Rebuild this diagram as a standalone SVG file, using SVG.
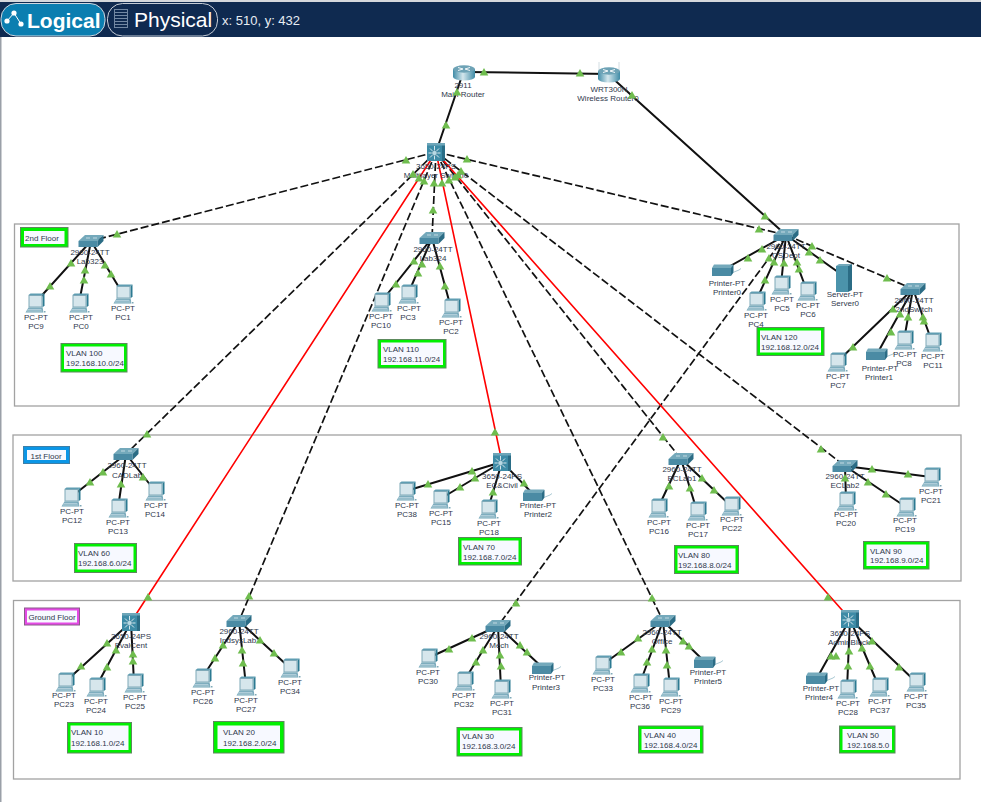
<svg xmlns="http://www.w3.org/2000/svg" width="981" height="802" viewBox="0 0 981 802">
<style>
text{font-family:"Liberation Sans",Arial,sans-serif}
.l{font-size:8px;fill:#2f384c;text-anchor:middle}
.v{font-size:8px;fill:#2f384c}
.f{font-size:8px;fill:#2f384c;text-anchor:middle}
.zone{fill:#fff;stroke:#a2a2a2;stroke-width:1.3}
.vo{fill:#00f000;stroke:#5d8a5d;stroke-width:1}
.vi{fill:#f7f9ff}
.s{stroke:#111;stroke-width:2;fill:none}
.d{stroke:#111;stroke-width:1.7;fill:none;stroke-dasharray:8 3}
.r{stroke:#f00;stroke-width:1.6;fill:none}
</style>
<defs>
<linearGradient id="cyl" x1="0" x2="1" y1="0" y2="0"><stop offset="0" stop-color="#3f8ba6"/><stop offset=".45" stop-color="#d4e7ed"/><stop offset="1" stop-color="#3f8ba6"/></linearGradient>
<polygon id="t" points="0,-4 4.3,3.4 -4.3,3.4" fill="#6fbd4e"/>
<g id="pc">
<polygon points="7.500,-8 9.500,-9.500 9.500,2.500 7.500,4.500" fill="#2c7a92"/>
<polygon points="-6.500,-8 -4.500,-9.500 9.500,-9.500 7.500,-8" fill="#5f9db2"/>
<rect x="-6.500" y="-8" width="14" height="12.500" fill="#7fa9b8"/>
<rect x="-5.500" y="-7" width="12" height="10.500" fill="#d6e6ec"/>
<polygon points="-9.500,9.500 -6.500,4.500 7.500,4.500 8.500,9.500" fill="#6ea3b6"/>
<path d="M-7.500 6.300H6.500M-8.500 8H7.500" stroke="#e4eff3" stroke-width=".7" fill="none"/>
<rect x="9" y="8" width="1.500" height="1.500" fill="#7fa9b8"/>
</g>
<g id="sw">
<polygon points="-12.500,0 -6,-6 12.500,-6 6.500,0" fill="#74a9bb"/>
<polygon points="-12.500,0 6.500,0 6.500,6 -12.500,6" fill="#4b8ba4"/>
<polygon points="6.500,0 12.500,-6 12.500,0 6.500,6" fill="#2b6c85"/>
<path d="M-5 -3H-1M2 -3H6" stroke="#d6e6ec" stroke-width=".8" fill="none"/>
</g>
<g id="ml">
<rect x="-9" y="-9" width="18" height="18" fill="#3d8ba6"/>
<rect x="6" y="-9" width="3" height="18" fill="#2a6d86"/>
<rect x="-9" y="-9" width="18" height="2.500" fill="#6ea6b9"/>
<path d="M-1.500 1L-1.500 -6M-1.500 1L-1.500 7.500M-1.500 1H-7.500M-1.500 1H4.500M-1.500 1L-6 -3.500M-1.500 1L3 -3.500M-1.500 1L-6 5.500M-1.500 1L3 5.500" stroke="#e8f2f5" stroke-width=".9" fill="none"/>
<circle cx="-1.500" cy="1" r="2.600" fill="#b7d9e4" stroke="#2a6d86" stroke-width=".5"/>
</g>
<g id="rt">
<rect x="-11" y="-4" width="22" height="8" fill="url(#cyl)"/>
<ellipse cx="0" cy="4" rx="11" ry="3.500" fill="url(#cyl)"/>
<ellipse cx="0" cy="-4" rx="11" ry="3.700" fill="#6ea3b6"/>
<path d="M-6 -5.500L-1 -4M6 -2.500L1 -4M6 -5.500L1 -4M-6 -2.500L-1 -4" stroke="#f2f7f9" stroke-width="1" fill="none"/>
</g>
<g id="pr">
<polygon points="-11,-2 -9,-5.500 10,-5.500 10,-2" fill="#74a9bb"/>
<rect x="-11" y="-2" width="19" height="8" fill="#4b8ba4"/>
<polygon points="8,-2 10.500,-5.500 10.500,2.500 8,6" fill="#2b6c85"/>
<path d="M11 2L16 0L18 -1.500" stroke="#9fc2ce" stroke-width=".9" fill="none"/>
</g>
<g id="sv">
<rect x="-8" y="-11" width="12" height="26" fill="#4b93ab"/>
<polygon points="-8,-11 -5,-13 8,-13 4,-11" fill="#74a9bb"/>
<polygon points="4,-11 8,-13 8,13 4,15" fill="#2b6c85"/>
</g>
</defs>
<rect width="981" height="802" fill="#fff"/>
<g id="toolbar">
<rect x="0" y="2" width="981" height="35" fill="#0f2a50"/>
<rect x="0" y="0" width="981" height="2" fill="#d5d8dc"/>
<rect x="1" y="3.500" width="104" height="32.500" rx="15" fill="#0b7eb0" stroke="#cfd8e0"/>
<rect x="107.500" y="3.500" width="110" height="32.500" rx="15" fill="#0f2a50" stroke="#c5ccd6"/>
<path d="M7 21L14 13L21 24" stroke="#fff" stroke-width="1" fill="none"/>
<circle cx="7" cy="21" r="2.600" fill="#fff"/><circle cx="14" cy="13" r="2.600" fill="#fff"/><circle cx="21" cy="24" r="2.600" fill="#fff"/>
<rect x="114.500" y="9.500" width="13" height="18" fill="none" stroke="#7288a3"/>
<path d="M115 12.500H127M115 15.500H127M115 18.500H127M115 21.500H127M115 24.500H127" stroke="#7288a3" fill="none"/>
<text x="27" y="28" font-size="21" font-weight="bold" fill="#fff">Logical</text>
<text x="134" y="27" font-size="21" fill="#fff">Physical</text>
<text x="222" y="25" font-size="13" fill="#e8edf3">x: 510, y: 432</text>
</g>
<rect x="0" y="37" width="1.500" height="765" fill="#9aa0a8"/>
<g id="zones">
<rect class="zone" x="14.500" y="224" width="944.500" height="182"/>
<rect class="zone" x="13" y="435" width="948" height="146"/>
<rect class="zone" x="13.500" y="600.500" width="946.500" height="178.500"/>
</g>
<g id="connectors">
<path class="s" d="M467 72L609 74M463 73L436 152M609 75L786 235"/>
<path class="d" d="M436 152L91 241M436 152L126 454M436 152L239 621M436 152L432 238M436 152L681 459M436 152L663 621M436 152L845 466M436 152L786 235M786 235L498 626M786 235L913 289"/>
<path class="r" d="M436 152L131 622M436 152L502 462M436 152L850 619"/>
<path class="s" d="M91 241L35 303M91 241L79 303M91 241L123 294M432 238L381 302M432 238L408 294M432 238L451 308M786 235L723 270M786 235L756 301M786 235L781 285M786 235L807 291M786 235L845 277M913 289L837 362M913 289L877 354M913 289L904 340M913 289L932 342"/>
<path class="s" d="M126 454L71 497M126 454L118 508M126 454L155 491M502 462L406 491M502 462L440 499M502 462L488 509M502 462L534 495M681 459L658 508M681 459L697 511M681 459L731 506M845 466L846 501M845 466L906 507M845 466L931 477"/>
<path class="s" d="M131 622L65 682M131 622L96 687M131 622L134 683M239 621L202 678M239 621L246 686M239 621L290 668M498 626L428 658M498 626L464 681M498 626L501 689M498 626L543 668M663 621L602 665M663 621L640 683M663 621L670 687M663 621L705 662M850 619L817 678M850 619L847 689M850 619L879 687M850 619L916 682"/>
</g>
<g id="n-router"><use href="#rt" x="464" y="73"/><text class="l" x="463" y="88">2911</text><text class="l" x="463" y="97">Main Router</text></g>
<g id="n-wrt"><path d="M599 62V70M619 62V70" stroke="#c6d4da" stroke-width=".8"/><use href="#rt" x="609" y="75"/><text class="l" x="609" y="92">WRT300N</text><text class="l" x="608" y="101">Wireless Router0</text></g>
<g id="n-ml0"><use href="#ml" x="436" y="152"/><text class="l" x="436" y="169">3650-24PS</text><text class="l" x="436" y="178">Multilayer Switch0</text></g>
<g id="f2"><rect class="vo" x="20.500" y="227.500" width="47.500" height="19.500"/><rect class="vi" x="24" y="231" width="40.500" height="13"/><text class="f" x="42" y="241">2nd Floor</text></g>
<g id="f1"><rect x="23.500" y="446.500" width="46" height="17" fill="#0b96e6" stroke="#3c7fa8"/><rect class="vi" x="27" y="450" width="39" height="10"/><text class="f" x="46" y="459">1st Floor</text></g>
<g id="f0"><rect x="24.500" y="608" width="55" height="17" fill="#e44be4" stroke="#8a5a8a"/><rect class="vi" x="27" y="610.500" width="50" height="12"/><text class="f" x="52" y="620">Ground Floor</text></g>
<g id="v100"><rect class="vo" x="61" y="343.500" width="66" height="28.500"/><rect class="vi" x="64" y="346.500" width="60" height="22.500"/><text class="v" x="66" y="356">VLAN 100</text><text class="v" x="66" y="365.500">192.168.10.0/24</text></g>
<g id="v110"><rect class="vo" x="378" y="339.500" width="68" height="28.500"/><rect class="vi" x="381" y="342.500" width="62" height="22.500"/><text class="v" x="383" y="352">VLAN 110</text><text class="v" x="383" y="361.500">192.168.11.0/24</text></g>
<g id="v120"><rect class="vo" x="757" y="327.500" width="67" height="28"/><rect class="vi" x="760" y="330.500" width="61" height="22"/><text class="v" x="761" y="340">VLAN 120</text><text class="v" x="761" y="349.500">192.168.12.0/24</text></g>
<g id="v60"><rect class="vo" x="74.500" y="543.500" width="62" height="29"/><rect class="vi" x="77.500" y="546.500" width="56" height="23"/><text class="v" x="78" y="556">VLAN 60</text><text class="v" x="78" y="565.500">192.168.6.0/24</text></g>
<g id="v70"><rect class="vo" x="458.500" y="537.500" width="63" height="27.500"/><rect class="vi" x="461.500" y="540.500" width="57" height="21.500"/><text class="v" x="463" y="549.500">VLAN 70</text><text class="v" x="463" y="559.500">192.168.7.0/24</text></g>
<g id="v80"><rect class="vo" x="674.500" y="545.500" width="64" height="28"/><rect class="vi" x="677.500" y="548.500" width="58" height="22"/><text class="v" x="678" y="557.500">VLAN 80</text><text class="v" x="678" y="567.500">192.168.8.0/24</text></g>
<g id="v90"><rect class="vo" x="863.500" y="541.500" width="65.500" height="27.500"/><rect class="vi" x="866.500" y="544.500" width="59.500" height="21.500"/><text class="v" x="870" y="553.500">VLAN 90</text><text class="v" x="870" y="563">192.168.9.0/24</text></g>
<g id="v10"><rect class="vo" x="67.500" y="722.500" width="64" height="30.500"/><rect class="vi" x="70.500" y="725.500" width="58" height="24.500"/><text class="v" x="71" y="735">VLAN 10</text><text class="v" x="71" y="746">192.168.1.0/24</text></g>
<g id="v20"><rect class="vo" x="213.500" y="721.500" width="70.500" height="31.500"/><rect class="vi" x="217.500" y="725.500" width="62.500" height="23.500"/><text class="v" x="223" y="735">VLAN 20</text><text class="v" x="223" y="746">192.168.2.0/24</text></g>
<g id="v30"><rect class="vo" x="457" y="727.500" width="65" height="28.500"/><rect class="vi" x="460" y="730.500" width="59" height="22.500"/><text class="v" x="462" y="739">VLAN 30</text><text class="v" x="462" y="749">192.168.3.0/24</text></g>
<g id="v40"><rect class="vo" x="638.500" y="726" width="64.500" height="27"/><rect class="vi" x="641.500" y="729" width="58.500" height="21"/><text class="v" x="644" y="738">VLAN 40</text><text class="v" x="644" y="747.500">192.168.4.0/24</text></g>
<g id="v50"><rect class="vo" x="839.500" y="726" width="55.500" height="27"/><rect class="vi" x="842.500" y="729" width="49.500" height="21"/><text class="v" x="847" y="738">VLAN 50</text><text class="v" x="847" y="747.500">192.168.5.0</text></g>
<g id="Lab323"><use href="#sw" x="91" y="241"/><text class="l" x="90" y="255">2960-24TT</text><text class="l" x="90" y="264">Lab323</text></g>
<g id="Lab324"><use href="#sw" x="432" y="238"/><text class="l" x="433" y="252">2960-24TT</text><text class="l" x="433" y="261">Lab324</text></g>
<g id="CSDept"><use href="#sw" x="786" y="235"/><text class="l" x="786" y="249">2960-24TT</text><text class="l" x="786" y="258">CSDept</text></g>
<g id="SndSwitch"><use href="#sw" x="913" y="289"/><text class="l" x="914" y="303">2960-24TT</text><text class="l" x="914" y="312">2ndSwitch</text></g>
<g id="CADLab"><use href="#sw" x="126" y="454"/><text class="l" x="127" y="468">2960-24TT</text><text class="l" x="127" y="478">CADLab</text></g>
<g id="ECCivil"><use href="#ml" x="502" y="462"/><text class="l" x="502" y="479">3650-24PS</text><text class="l" x="502" y="488">EC&amp;Civil</text></g>
<g id="ECLab1"><use href="#sw" x="681" y="459"/><text class="l" x="682" y="472">2960-24TT</text><text class="l" x="682" y="481">ECLab1</text></g>
<g id="ECLab2"><use href="#sw" x="845" y="466"/><text class="l" x="845" y="479">2960-24TT</text><text class="l" x="845" y="488">ECLab2</text></g>
<g id="EvalCent"><use href="#ml" x="131" y="622"/><text class="l" x="131" y="639">3650-24PS</text><text class="l" x="131" y="648">EvalCent</text></g>
<g id="IndsysLab"><use href="#sw" x="239" y="621"/><text class="l" x="239" y="634">2960-24TT</text><text class="l" x="238" y="643">IndsysLab</text></g>
<g id="Mech"><use href="#sw" x="498" y="626"/><text class="l" x="499" y="639">2960-24TT</text><text class="l" x="499" y="648">Mech</text></g>
<g id="Office"><use href="#sw" x="663" y="621"/><text class="l" x="662" y="635">2960-24TT</text><text class="l" x="662" y="644">Office</text></g>
<g id="AdminBlock"><use href="#ml" x="850" y="619"/><text class="l" x="850" y="636">3650-24PS</text><text class="l" x="849" y="645">AdminBlock</text></g>
<g id="Printer0"><use href="#pr" x="723" y="270"/><text class="l" x="727" y="286">Printer-PT</text><text class="l" x="727" y="295">Printer0</text></g>
<g id="Printer1"><use href="#pr" x="877" y="354"/><text class="l" x="880" y="371">Printer-PT</text><text class="l" x="879" y="380">Printer1</text></g>
<g id="Printer2"><use href="#pr" x="534" y="495"/><text class="l" x="538" y="508">Printer-PT</text><text class="l" x="538" y="517">Printer2</text></g>
<g id="Printer3"><use href="#pr" x="543" y="668"/><text class="l" x="547" y="680">Printer-PT</text><text class="l" x="546" y="690">Printer3</text></g>
<g id="Printer5"><use href="#pr" x="705" y="662"/><text class="l" x="708" y="675">Printer-PT</text><text class="l" x="708" y="684">Printer5</text></g>
<g id="Printer4"><use href="#pr" x="817" y="678"/><text class="l" x="821" y="691">Printer-PT</text><text class="l" x="819" y="700">Printer4</text></g>
<g id="Server0"><use href="#sv" x="844" y="277"/><text class="l" x="845" y="297">Server-PT</text><text class="l" x="845" y="306">Server0</text></g>
<g id="PC9"><use href="#pc" x="35" y="303"/><text class="l" x="36" y="320">PC-PT</text><text class="l" x="36" y="329">PC9</text></g>
<g id="PC0"><use href="#pc" x="79" y="303"/><text class="l" x="81" y="320">PC-PT</text><text class="l" x="81" y="329">PC0</text></g>
<g id="PC1"><use href="#pc" x="123" y="294"/><text class="l" x="123" y="311">PC-PT</text><text class="l" x="123" y="320">PC1</text></g>
<g id="PC10"><use href="#pc" x="381" y="302"/><text class="l" x="381" y="319">PC-PT</text><text class="l" x="381" y="328">PC10</text></g>
<g id="PC3"><use href="#pc" x="408" y="294"/><text class="l" x="409" y="311">PC-PT</text><text class="l" x="408" y="320">PC3</text></g>
<g id="PC2"><use href="#pc" x="451" y="308"/><text class="l" x="451" y="325">PC-PT</text><text class="l" x="451" y="334">PC2</text></g>
<g id="PC4"><use href="#pc" x="756" y="301"/><text class="l" x="756" y="318">PC-PT</text><text class="l" x="756" y="327">PC4</text></g>
<g id="PC5"><use href="#pc" x="781" y="285"/><text class="l" x="782" y="302">PC-PT</text><text class="l" x="782" y="311">PC5</text></g>
<g id="PC6"><use href="#pc" x="807" y="291"/><text class="l" x="808" y="308">PC-PT</text><text class="l" x="808" y="317">PC6</text></g>
<g id="PC7"><use href="#pc" x="837" y="362"/><text class="l" x="838" y="379">PC-PT</text><text class="l" x="838" y="388">PC7</text></g>
<g id="PC8"><use href="#pc" x="904" y="340"/><text class="l" x="905" y="357">PC-PT</text><text class="l" x="904" y="366">PC8</text></g>
<g id="PC11"><use href="#pc" x="932" y="342"/><text class="l" x="933" y="359">PC-PT</text><text class="l" x="933" y="368">PC11</text></g>
<g id="PC12"><use href="#pc" x="71" y="497"/><text class="l" x="72" y="514">PC-PT</text><text class="l" x="72" y="523">PC12</text></g>
<g id="PC13"><use href="#pc" x="118" y="508"/><text class="l" x="118" y="525">PC-PT</text><text class="l" x="118" y="534">PC13</text></g>
<g id="PC14"><use href="#pc" x="155" y="491"/><text class="l" x="156" y="508">PC-PT</text><text class="l" x="155" y="517">PC14</text></g>
<g id="PC38"><use href="#pc" x="406" y="491"/><text class="l" x="407" y="508">PC-PT</text><text class="l" x="407" y="517">PC38</text></g>
<g id="PC15"><use href="#pc" x="440" y="499"/><text class="l" x="441" y="516">PC-PT</text><text class="l" x="441" y="525">PC15</text></g>
<g id="PC18"><use href="#pc" x="488" y="509"/><text class="l" x="489" y="526">PC-PT</text><text class="l" x="489" y="535">PC18</text></g>
<g id="PC16"><use href="#pc" x="658" y="508"/><text class="l" x="659" y="525">PC-PT</text><text class="l" x="659" y="534">PC16</text></g>
<g id="PC17"><use href="#pc" x="697" y="511"/><text class="l" x="698" y="528">PC-PT</text><text class="l" x="698" y="537">PC17</text></g>
<g id="PC22"><use href="#pc" x="731" y="506"/><text class="l" x="732" y="522">PC-PT</text><text class="l" x="732" y="531">PC22</text></g>
<g id="PC20"><use href="#pc" x="846" y="501"/><text class="l" x="846" y="517">PC-PT</text><text class="l" x="846" y="526">PC20</text></g>
<g id="PC19"><use href="#pc" x="906" y="507"/><text class="l" x="905" y="523">PC-PT</text><text class="l" x="905" y="532">PC19</text></g>
<g id="PC21"><use href="#pc" x="931" y="477"/><text class="l" x="931" y="494">PC-PT</text><text class="l" x="931" y="503">PC21</text></g>
<g id="PC23"><use href="#pc" x="65" y="682"/><text class="l" x="64" y="698">PC-PT</text><text class="l" x="64" y="707">PC23</text></g>
<g id="PC24"><use href="#pc" x="96" y="687"/><text class="l" x="96" y="704">PC-PT</text><text class="l" x="96" y="713">PC24</text></g>
<g id="PC25"><use href="#pc" x="134" y="683"/><text class="l" x="135" y="700">PC-PT</text><text class="l" x="135" y="709">PC25</text></g>
<g id="PC26"><use href="#pc" x="202" y="678"/><text class="l" x="203" y="695">PC-PT</text><text class="l" x="203" y="704">PC26</text></g>
<g id="PC27"><use href="#pc" x="246" y="686"/><text class="l" x="246" y="703">PC-PT</text><text class="l" x="246" y="712">PC27</text></g>
<g id="PC34"><use href="#pc" x="290" y="668"/><text class="l" x="290" y="685">PC-PT</text><text class="l" x="290" y="694">PC34</text></g>
<g id="PC30"><use href="#pc" x="428" y="658"/><text class="l" x="428" y="675">PC-PT</text><text class="l" x="428" y="684">PC30</text></g>
<g id="PC32"><use href="#pc" x="464" y="681"/><text class="l" x="464" y="698">PC-PT</text><text class="l" x="464" y="707">PC32</text></g>
<g id="PC31"><use href="#pc" x="501" y="689"/><text class="l" x="502" y="706">PC-PT</text><text class="l" x="502" y="715">PC31</text></g>
<g id="PC33"><use href="#pc" x="602" y="665"/><text class="l" x="603" y="682">PC-PT</text><text class="l" x="603" y="691">PC33</text></g>
<g id="PC36"><use href="#pc" x="640" y="683"/><text class="l" x="641" y="700">PC-PT</text><text class="l" x="640" y="709">PC36</text></g>
<g id="PC29"><use href="#pc" x="670" y="687"/><text class="l" x="671" y="704">PC-PT</text><text class="l" x="671" y="713">PC29</text></g>
<g id="PC28"><use href="#pc" x="847" y="689"/><text class="l" x="848" y="706">PC-PT</text><text class="l" x="848" y="715">PC28</text></g>
<g id="PC37"><use href="#pc" x="879" y="687"/><text class="l" x="880" y="704">PC-PT</text><text class="l" x="880" y="713">PC37</text></g>
<g id="PC35"><use href="#pc" x="916" y="682"/><text class="l" x="916" y="699">PC-PT</text><text class="l" x="916" y="708">PC35</text></g>
<g id="link-lights">
<use href="#t" x="484" y="72"/><use href="#t" x="580" y="73"/><use href="#t" x="457" y="92"/><use href="#t" x="446" y="125"/><use href="#t" x="632" y="95"/><use href="#t" x="765" y="216"/>
<use href="#t" x="406" y="160"/><use href="#t" x="467" y="159"/><use href="#t" x="413" y="174"/><use href="#t" x="419" y="178"/><use href="#t" x="424" y="181"/><use href="#t" x="434" y="183"/><use href="#t" x="442" y="183"/><use href="#t" x="449" y="180"/><use href="#t" x="455" y="177"/><use href="#t" x="458" y="175"/><use href="#t" x="461" y="171"/>
<use href="#t" x="433" y="210"/><use href="#t" x="117" y="234"/><use href="#t" x="71" y="263"/><use href="#t" x="50" y="286"/><use href="#t" x="85" y="270"/><use href="#t" x="84" y="280"/><use href="#t" x="105" y="265"/><use href="#t" x="111" y="274"/>
<use href="#t" x="414" y="261"/><use href="#t" x="396" y="284"/><use href="#t" x="422" y="264"/><use href="#t" x="418" y="273"/><use href="#t" x="440" y="266"/><use href="#t" x="445" y="286"/>
<use href="#t" x="759" y="229"/><use href="#t" x="748" y="258"/><use href="#t" x="762" y="249"/><use href="#t" x="769" y="258"/><use href="#t" x="765" y="280"/><use href="#t" x="774" y="262"/><use href="#t" x="784" y="263"/><use href="#t" x="797" y="262"/><use href="#t" x="799" y="269"/><use href="#t" x="809" y="252"/><use href="#t" x="812" y="246"/><use href="#t" x="820" y="260"/><use href="#t" x="887" y="278"/><use href="#t" x="893" y="309"/><use href="#t" x="853" y="347"/><use href="#t" x="900" y="314"/><use href="#t" x="891" y="332"/><use href="#t" x="908" y="317"/><use href="#t" x="923" y="317"/><use href="#t" x="924" y="321"/>
<use href="#t" x="147" y="434"/><use href="#t" x="103" y="472"/><use href="#t" x="90" y="482"/><use href="#t" x="121" y="484"/><use href="#t" x="143" y="477"/>
<use href="#t" x="495" y="432"/><use href="#t" x="472" y="471"/><use href="#t" x="428" y="484"/><use href="#t" x="475" y="478"/><use href="#t" x="460" y="487"/><use href="#t" x="493" y="492"/><use href="#t" x="524" y="483"/>
<use href="#t" x="663" y="437"/><use href="#t" x="669" y="486"/><use href="#t" x="690" y="488"/><use href="#t" x="702" y="478"/><use href="#t" x="714" y="490"/><use href="#t" x="821" y="449"/><use href="#t" x="845" y="478"/><use href="#t" x="872" y="469"/><use href="#t" x="908" y="474"/><use href="#t" x="868" y="482"/><use href="#t" x="886" y="494"/>
<use href="#t" x="148" y="597"/><use href="#t" x="107" y="643"/><use href="#t" x="81" y="666"/><use href="#t" x="116" y="650"/><use href="#t" x="107" y="667"/><use href="#t" x="133" y="654"/><use href="#t" x="133" y="661"/><use href="#t" x="249" y="596"/><use href="#t" x="223" y="645"/><use href="#t" x="215" y="658"/><use href="#t" x="242" y="650"/><use href="#t" x="243" y="663"/><use href="#t" x="260" y="640"/><use href="#t" x="274" y="653"/>
<use href="#t" x="516" y="603"/><use href="#t" x="472" y="638"/><use href="#t" x="449" y="649"/><use href="#t" x="483" y="650"/><use href="#t" x="476" y="662"/><use href="#t" x="500" y="655"/><use href="#t" x="501" y="666"/><use href="#t" x="520" y="645"/><use href="#t" x="527" y="652"/>
<use href="#t" x="652" y="598"/><use href="#t" x="638" y="638"/><use href="#t" x="621" y="652"/><use href="#t" x="652" y="649"/><use href="#t" x="647" y="662"/><use href="#t" x="666" y="650"/><use href="#t" x="667" y="665"/><use href="#t" x="683" y="641"/><use href="#t" x="689" y="646"/>
<use href="#t" x="828" y="597"/><use href="#t" x="836" y="656"/><use href="#t" x="831" y="656"/><use href="#t" x="849" y="651"/><use href="#t" x="848" y="666"/><use href="#t" x="862" y="648"/><use href="#t" x="870" y="666"/><use href="#t" x="872" y="641"/><use href="#t" x="899" y="667"/>
</g>
</svg>
